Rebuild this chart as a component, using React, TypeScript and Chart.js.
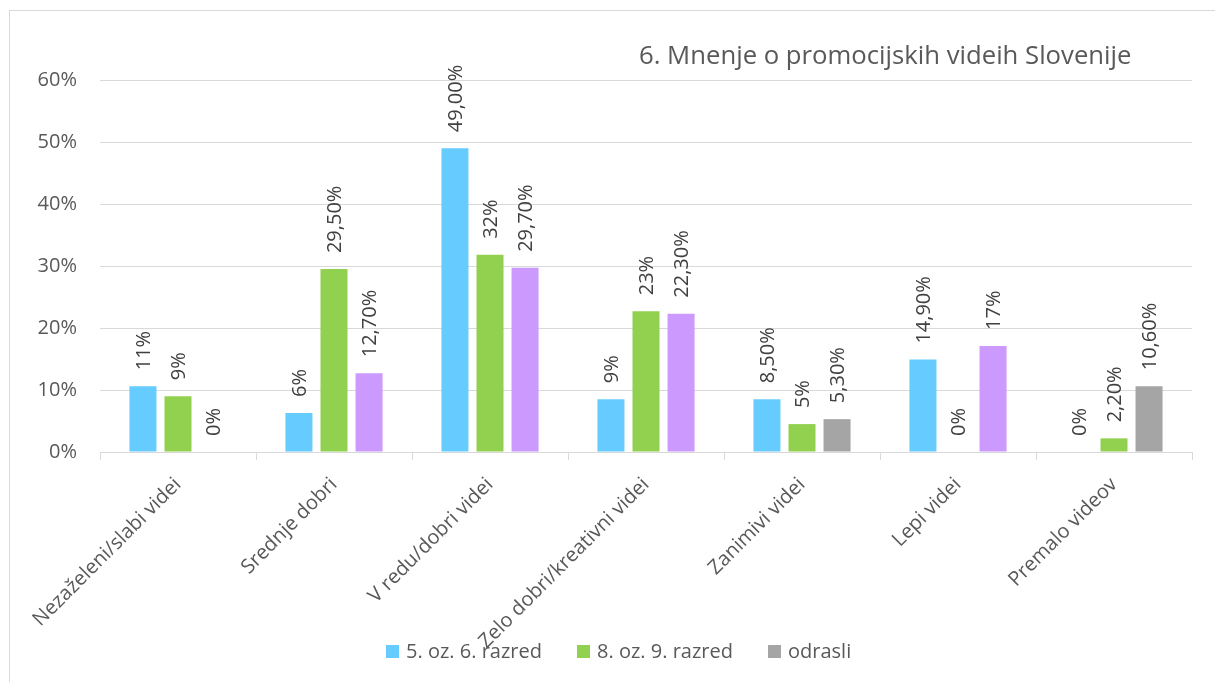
import React, { useEffect, useRef } from "react";
import { Chart, registerables } from "chart.js";

Chart.register(...registerables);

const categories = [
  "Nezaželeni/slabi videi",
  "Srednje dobri",
  "V redu/dobri videi",
  "Zelo dobri/kreativni videi",
  "Zanimivi videi",
  "Lepi videi",
  "Premalo videov",
];

const seriesNames = ["5. oz. 6. razred", "8. oz. 9. razred", "odrasli"];

const grade56 = [10.6, 6.3, 49.0, 8.5, 8.5, 14.9, 0];
const grade89 = [9.0, 29.5, 31.8, 22.7, 4.5, 0, 2.2];
const adults = [0, 12.7, 29.7, 22.3, 5.3, 17.1, 10.6];

const grade56Labels = ["11%", "6%", "49,00%", "9%", "8,50%", "14,90%", "0%"];
const grade89Labels = ["9%", "29,50%", "32%", "23%", "5%", "0%", "2,20%"];
const adultsLabels = ["0%", "12,70%", "29,70%", "22,30%", "5,30%", "17%", "10,60%"];

const yTicks = [0, 10, 20, 30, 40, 50, 60];

const title = "6. Mnenje o promocijskih videih Slovenije";

const BLUE = "#66CCFF";
const GREEN = "#92D050";
const GRAY = "#A5A5A5";
const PURPLE = "#CC99FF";
const adultsColors = [GRAY, PURPLE, PURPLE, PURPLE, GRAY, PURPLE, GRAY];
const legendColors = [BLUE, GREEN, GRAY];

const FONT = "'Open Sans', sans-serif";
const TEXT = "#595959";

export default function App() {
  const ref = useRef<HTMLCanvasElement | null>(null);

  useEffect(() => {
    if (!ref.current) return;
    const labelSets = [grade56Labels, grade89Labels, adultsLabels];

    const framePlugin = {
      id: "frame",
      beforeDraw(chart: any) {
        const ctx = chart.ctx;
        ctx.save();
        ctx.fillStyle = "#ffffff";
        ctx.fillRect(0, 0, chart.width, chart.height);
        ctx.fillStyle = "#d9d9d9";
        ctx.fillRect(9, 10, chart.width, 1);
        ctx.fillRect(9, 10, 1, chart.height);
        ctx.restore();
      },
    };

    const extrasPlugin = {
      id: "extras",
      afterDraw(chart: any) {
        const ctx = chart.ctx;
        ctx.save();
        // data labels
        ctx.fillStyle = "#404040";
        ctx.font = `20px ${FONT}`;
        chart.data.datasets.forEach((_: any, di: number) => {
          const meta = chart.getDatasetMeta(di);
          meta.data.forEach((bar: any, j: number) => {
            ctx.save();
            ctx.translate(bar.x + 1, bar.y - 16);
            ctx.rotate(-Math.PI / 2);
            ctx.textAlign = "left";
            ctx.textBaseline = "middle";
            ctx.fillText(labelSets[di][j], 0, 0);
            ctx.restore();
          });
        });
        // title
        ctx.fillStyle = TEXT;
        ctx.font = `25.7px ${FONT}`;
        ctx.textAlign = "left";
        ctx.textBaseline = "alphabetic";
        ctx.fillText(title, 639, 64);
        // legend
        ctx.font = `20px ${FONT}`;
        ctx.textBaseline = "middle";
        const legendX = [386, 577, 768];
        seriesNames.forEach((name, i) => {
          ctx.fillStyle = legendColors[i];
          ctx.fillRect(legendX[i], 645, 13, 13);
          ctx.fillStyle = TEXT;
          ctx.fillText(name, legendX[i] + 20, 652);
        });
        ctx.restore();
      },
    };

    const chart = new Chart(ref.current, {
      type: "bar",
      data: {
        labels: categories,
        datasets: [
          { label: seriesNames[0], data: grade56, backgroundColor: BLUE },
          { label: seriesNames[1], data: grade89, backgroundColor: GREEN },
          { label: seriesNames[2], data: adults, backgroundColor: adultsColors },
        ],
      },
      options: {
        responsive: false,
        animation: false,
        devicePixelRatio: 1,
        datasets: {
          bar: { categoryPercentage: 0.674, barPercentage: 0.771 },
        },
        layout: { padding: { top: 80, right: 23, bottom: 0, left: 0 } },
        plugins: {
          legend: { display: false },
          title: { display: false },
          tooltip: { enabled: false },
        },
        scales: {
          x: {
            afterFit(scale: any) {
              scale.height = 230;
            },
            grid: {
              drawOnChartArea: false,
              drawTicks: true,
              tickLength: 8,
              color: "#d9d9d9",
            },
            border: { color: "#d9d9d9" },
            ticks: {
              maxRotation: 45,
              minRotation: 45,
              color: TEXT,
              font: { family: FONT, size: 20 },
              padding: 13,
            },
          },
          y: {
            min: 0,
            max: 60,
            afterFit(scale: any) {
              scale.width = 100;
            },
            afterBuildTicks(scale: any) {
              scale.ticks = yTicks.map((v) => ({ value: v }));
            },
            grid: { color: "#d9d9d9", drawTicks: false },
            border: { display: false },
            ticks: {
              padding: 23,
              color: TEXT,
              font: { family: FONT, size: 20 },
              callback: (v: any) => `${v}%`,
            },
          },
        },
      },
      plugins: [framePlugin, extrasPlugin],
    });
    return () => chart.destroy();
  }, []);

  return (
    <div style={{ position: "absolute", left: 0, top: 0, width: 1215, height: 682 }}>
      <canvas ref={ref} width={1215} height={682} />
    </div>
  );
}
